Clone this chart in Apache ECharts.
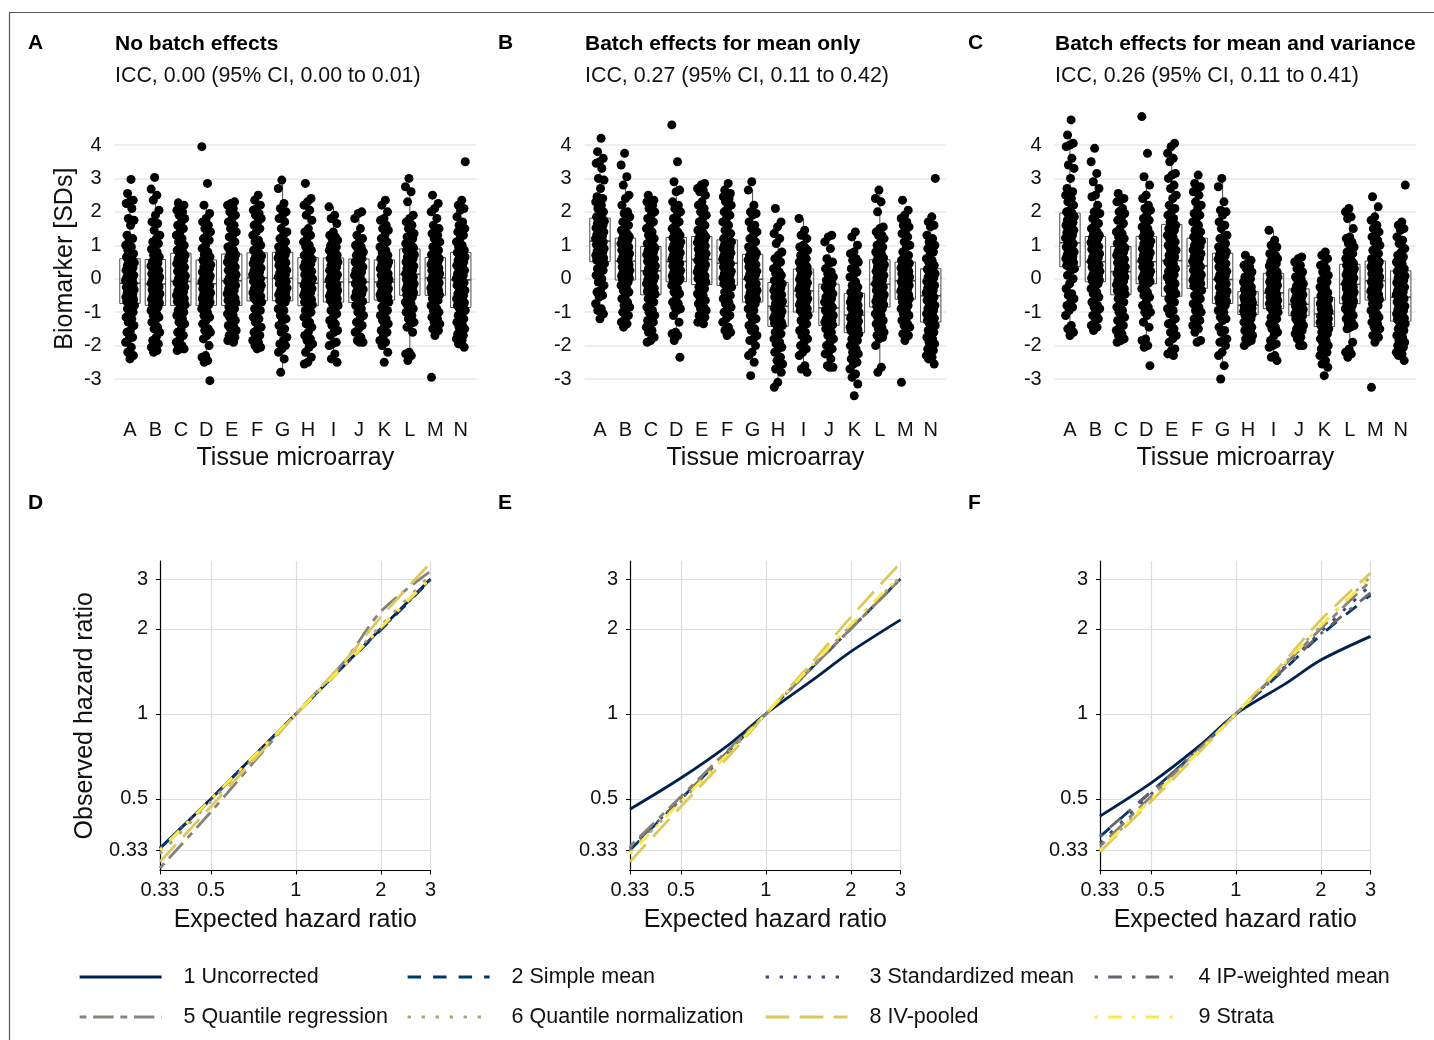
<!DOCTYPE html>
<html>
<head>
<meta charset="utf-8">
<title>Batch effects and hazard ratios</title>
<script src="https://cdn.jsdelivr.net/npm/echarts@6/dist/echarts.min.js"></script>
<style>
  html, body { margin: 0; padding: 0; background: #ffffff; }
  #chart { width: 1434px; height: 1040px; }
</style>
</head>
<body>
<div id="chart"></div>
<script>
// ---------- data ----------
const tmaLabels = ['A','B','C','D','E','F','G','H','I','J','K','L','M','N'];
const biomarkerTicks = [-3, -2, -1, 0, 1, 2, 3, 4];

// Biomarker values (SD units) per tissue microarray, scenario without batch effects
const biomarkerNoBatch = [
  [2.97,2.55,2.35,2.3,2.25,1.8,1.75,1.2,1.15,1.0,0.85,0.7,0.58,0.52,0.45,0.4,0.3,0.25,0.18,0.1,0.05,0.0,-0.05,-0.1,-0.15,-0.22,-0.25,-0.3,-0.38,-0.42,-0.5,-0.55,-0.6,-0.65,-0.68,-0.72,-0.8,-0.9,-1.0,-1.05,-1.3,-1.4,-1.55,-1.75,-1.8,-2.2,-2.3,-2.4,
   2.1,1.6,1.3,0.95,0.75,0.65,0.48,0.33,0.2,0.07,-0.02,-0.12,-0.26,-0.33,-0.47,-0.57,-0.62,-0.7,-0.85,-1.15,-1.2,-1.6,-1.9,-2.05],
  [3.03,2.68,2.35,2.05,1.7,1.65,1.3,1.2,1.05,0.95,0.8,0.65,0.55,0.5,0.42,0.35,0.3,0.2,0.15,0.1,0.02,-0.05,-0.1,-0.18,-0.2,-0.28,-0.33,-0.4,-0.45,-0.5,-0.58,-0.62,-0.68,-0.72,-0.75,-0.78,-0.85,-0.95,-1.05,-1.15,-1.3,-1.45,-1.6,-1.75,-1.95,-2.05,-2.15,-2.2,
   2.5,1.9,1.45,1.1,0.88,0.7,0.47,0.38,0.25,0.12,0.05,-0.02,-0.14,-0.24,-0.36,-0.48,-0.55,-0.65,-0.9,-1.1,-1.25,-1.5,-1.85,-2.0],
  [2.27,2.2,2.1,2.05,2.0,1.8,1.6,1.5,1.4,1.2,1.0,0.85,0.75,0.7,0.6,0.5,0.45,0.38,0.3,0.22,0.15,0.08,0.0,-0.06,-0.12,-0.2,-0.25,-0.32,-0.4,-0.45,-0.52,-0.6,-0.65,-0.7,-0.74,-0.78,-0.85,-1.0,-1.1,-1.2,-1.35,-1.5,-1.7,-1.8,-2.0,-2.05,-2.1,-2.15,
   1.9,1.7,1.3,1.1,0.95,0.8,0.65,0.55,0.42,0.34,0.18,0.04,-0.1,-0.22,-0.36,-0.5,-0.56,-0.68,-0.95,-1.05,-1.3,-1.6,-1.9,-2.1],
  [3.95,2.85,2.2,1.95,1.8,1.6,1.4,1.3,1.15,1.0,0.8,0.65,0.55,0.48,0.4,0.35,0.28,0.2,0.12,0.05,0.0,-0.05,-0.12,-0.18,-0.22,-0.3,-0.35,-0.42,-0.48,-0.55,-0.6,-0.65,-0.7,-0.72,-0.75,-0.78,-0.85,-1.0,-1.1,-1.25,-1.5,-1.6,-1.8,-2.0,-2.3,-2.45,-2.5,-3.05,
   1.7,1.5,1.2,0.9,0.72,0.6,0.5,0.42,0.3,0.16,0.08,-0.02,-0.1,-0.25,-0.38,-0.45,-0.58,-0.68,-0.9,-1.15,-1.35,-1.55,-1.7,-2.35],
  [2.3,2.25,2.2,2.1,1.9,1.7,1.5,1.4,1.25,1.1,0.95,0.8,0.72,0.65,0.58,0.5,0.42,0.35,0.3,0.2,0.12,0.05,0.0,-0.08,-0.12,-0.2,-0.28,-0.35,-0.4,-0.48,-0.55,-0.6,-0.65,-0.7,-0.72,-0.78,-0.85,-0.95,-1.05,-1.15,-1.3,-1.4,-1.5,-1.6,-1.7,-1.8,-1.85,-1.9,
   2.0,1.8,1.6,1.3,1.0,0.85,0.68,0.55,0.45,0.25,0.15,0.02,-0.05,-0.18,-0.3,-0.45,-0.58,-0.68,-0.9,-1.1,-1.25,-1.45,-1.55,-1.75],
  [2.5,2.35,2.1,2.05,1.9,1.8,1.7,1.5,1.3,1.15,1.0,0.85,0.75,0.68,0.6,0.55,0.45,0.4,0.32,0.25,0.2,0.12,0.05,0.0,-0.05,-0.12,-0.18,-0.25,-0.3,-0.35,-0.42,-0.48,-0.52,-0.58,-0.6,-0.65,-0.75,-0.9,-1.0,-1.15,-1.3,-1.45,-1.6,-1.75,-1.85,-2.0,-2.05,-2.1,
   2.2,1.95,1.6,1.4,1.1,0.9,0.7,0.58,0.5,0.35,0.28,0.15,0.08,-0.08,-0.2,-0.32,-0.45,-0.55,-0.7,-0.95,-1.2,-1.5,-1.7,-1.9],
  [2.95,2.7,2.25,2.0,1.9,1.7,1.5,1.3,1.2,1.05,0.95,0.85,0.78,0.7,0.62,0.55,0.48,0.4,0.32,0.25,0.18,0.1,0.05,-0.02,-0.08,-0.12,-0.2,-0.25,-0.3,-0.38,-0.42,-0.48,-0.52,-0.58,-0.6,-0.65,-0.8,-0.95,-1.1,-1.25,-1.4,-1.6,-1.75,-1.85,-2.0,-2.1,-2.4,-2.8,
   2.1,1.8,1.4,1.1,0.9,0.82,0.74,0.66,0.5,0.42,0.28,0.2,0.12,-0.05,-0.15,-0.28,-0.45,-0.55,-0.7,-0.9,-1.2,-1.5,-1.95,-2.2],
  [2.85,2.4,2.3,2.05,1.75,1.4,1.3,1.2,1.1,0.95,0.85,0.7,0.62,0.55,0.48,0.4,0.35,0.25,0.2,0.12,0.05,0.0,-0.08,-0.12,-0.2,-0.25,-0.3,-0.38,-0.42,-0.5,-0.55,-0.6,-0.65,-0.7,-0.74,-0.78,-0.9,-1.0,-1.15,-1.35,-1.45,-1.7,-1.85,-1.95,-2.05,-2.35,-2.5,-2.55,
   2.2,1.9,1.5,1.0,0.8,0.66,0.58,0.45,0.3,0.22,0.08,-0.02,-0.15,-0.28,-0.35,-0.46,-0.62,-0.72,-0.95,-1.1,-1.3,-1.6,-1.8,-2.2],
  [2.15,1.8,1.65,1.3,1.25,1.2,1.1,1.0,0.95,0.85,0.75,0.68,0.6,0.55,0.48,0.4,0.3,0.25,0.18,0.1,0.05,0.0,-0.05,-0.12,-0.18,-0.22,-0.3,-0.35,-0.4,-0.45,-0.5,-0.55,-0.58,-0.62,-0.65,-0.68,-0.8,-0.95,-1.05,-1.25,-1.4,-1.55,-1.6,-1.9,-2.0,-2.25,-2.4,-2.5,
   1.9,1.4,1.15,0.9,0.8,0.7,0.58,0.5,0.35,0.2,0.12,0.02,-0.08,-0.2,-0.32,-0.42,-0.52,-0.6,-0.75,-0.9,-1.15,-1.35,-1.7,-1.95],
  [2.0,1.95,1.8,1.3,1.1,1.0,0.9,0.8,0.7,0.6,0.5,0.42,0.35,0.25,0.15,0.1,0.0,-0.08,-0.15,-0.25,-0.32,-0.4,-0.48,-0.55,-0.62,-0.68,-0.72,-0.8,-1.0,-1.1,-1.3,-1.4,-1.6,-1.85,-1.9,-1.9,
   1.5,1.2,0.95,0.75,0.55,0.45,0.3,0.2,0.05,-0.12,-0.2,-0.35,-0.45,-0.6,-0.9,-1.2,-1.5,-1.75],
  [2.35,2.2,1.8,1.75,1.5,1.45,1.2,1.1,1.0,0.85,0.7,0.6,0.55,0.5,0.42,0.35,0.3,0.22,0.15,0.1,0.05,-0.02,-0.08,-0.12,-0.18,-0.25,-0.3,-0.35,-0.4,-0.45,-0.5,-0.52,-0.55,-0.58,-0.6,-0.62,-0.7,-0.85,-1.0,-1.1,-1.25,-1.4,-1.55,-1.7,-1.85,-2.0,-2.2,-2.5,
   2.0,1.6,1.3,0.95,0.78,0.65,0.52,0.45,0.38,0.25,0.12,0.0,-0.05,-0.15,-0.28,-0.38,-0.48,-0.56,-0.75,-0.95,-1.2,-1.35,-1.6,-1.9],
  [3.0,2.75,2.6,1.9,1.7,1.6,1.35,1.3,1.2,1.1,1.0,0.92,0.88,0.8,0.72,0.65,0.6,0.5,0.45,0.38,0.3,0.25,0.2,0.12,0.05,0.0,-0.05,-0.1,-0.15,-0.2,-0.25,-0.3,-0.35,-0.4,-0.45,-0.48,-0.55,-0.7,-0.8,-0.9,-1.0,-1.2,-1.35,-1.45,-2.2,-2.25,-2.3,-2.45,
   2.3,1.8,1.5,1.25,1.05,0.95,0.85,0.75,0.68,0.55,0.42,0.35,0.15,0.08,-0.02,-0.18,-0.32,-0.42,-0.6,-0.75,-0.95,-1.1,-1.3,-1.6],
  [2.5,2.25,2.0,1.8,1.5,1.4,1.3,1.2,1.1,0.95,0.8,0.68,0.62,0.58,0.5,0.45,0.38,0.32,0.28,0.2,0.15,0.1,0.05,0.0,-0.05,-0.1,-0.12,-0.18,-0.22,-0.28,-0.3,-0.35,-0.4,-0.42,-0.45,-0.48,-0.55,-0.65,-0.8,-0.9,-1.0,-1.1,-1.2,-1.3,-1.45,-1.55,-1.7,-2.95,
   2.1,1.6,1.35,1.05,0.85,0.72,0.6,0.52,0.42,0.35,0.25,0.18,0.08,-0.02,-0.15,-0.25,-0.32,-0.45,-0.6,-0.75,-0.95,-1.15,-1.35,-1.5],
  [3.5,2.35,2.1,2.05,1.85,1.6,1.5,1.4,1.3,1.2,1.0,0.85,0.78,0.7,0.62,0.55,0.48,0.4,0.3,0.22,0.15,0.08,0.0,-0.05,-0.12,-0.2,-0.28,-0.35,-0.42,-0.5,-0.55,-0.62,-0.7,-0.75,-0.8,-0.85,-0.95,-1.05,-1.2,-1.3,-1.4,-1.5,-1.6,-1.7,-1.75,-1.8,-1.95,-2.05,
   2.2,1.7,1.45,1.1,0.95,0.82,0.75,0.65,0.5,0.35,0.25,0.1,-0.02,-0.15,-0.3,-0.45,-0.6,-0.72,-0.9,-1.1,-1.25,-1.45,-1.65,-1.85]
];

// Biomarker values, batch effects on the mean only
const biomarkerMeanOnly = [
  [4.2,3.8,3.6,3.5,3.45,3.0,2.95,2.45,2.4,2.3,2.2,1.9,1.8,1.72,1.65,1.6,1.52,1.45,1.4,1.32,1.25,1.2,1.15,1.1,1.02,0.98,0.9,0.85,0.8,0.75,0.7,0.65,0.62,0.58,0.55,0.53,0.45,0.3,0.2,0.0,-0.2,-0.35,-0.5,-0.55,-0.75,-0.9,-1.05,-1.2,
   3.3,2.7,2.35,2.1,2.0,1.85,1.78,1.68,1.55,1.48,1.35,1.28,1.18,1.05,0.95,0.82,0.68,0.56,0.4,0.25,0.1,-0.1,-0.4,-0.95],
  [3.75,3.4,3.05,2.8,2.5,2.4,2.0,1.95,1.8,1.7,1.5,1.3,1.2,1.15,1.1,1.0,0.95,0.9,0.82,0.75,0.7,0.65,0.58,0.5,0.45,0.4,0.35,0.3,0.25,0.18,0.12,0.1,0.05,0.02,0.0,-0.02,-0.1,-0.2,-0.3,-0.4,-0.5,-0.7,-0.8,-0.9,-1.0,-1.2,-1.35,-1.45,
   2.2,1.85,1.6,1.45,1.35,1.26,1.18,1.05,0.98,0.86,0.78,0.62,0.55,0.42,0.32,0.2,0.08,0.03,-0.15,-0.35,-0.6,-0.85,-1.1,-1.3],
  [2.5,2.35,2.3,2.3,2.1,2.0,1.8,1.7,1.5,1.4,1.2,1.05,0.95,0.9,0.8,0.75,0.68,0.6,0.55,0.5,0.42,0.35,0.3,0.25,0.18,0.1,0.05,0.0,-0.05,-0.12,-0.18,-0.25,-0.3,-0.38,-0.42,-0.46,-0.55,-0.7,-0.85,-1.0,-1.1,-1.2,-1.3,-1.45,-1.55,-1.75,-1.85,-1.9,
   2.2,1.9,1.6,1.3,1.1,1.0,0.92,0.85,0.72,0.64,0.52,0.38,0.22,0.12,-0.02,-0.15,-0.28,-0.4,-0.6,-0.8,-0.95,-1.25,-1.4,-1.6],
  [4.6,3.5,2.9,2.65,2.6,2.3,2.1,2.0,1.8,1.6,1.5,1.3,1.22,1.15,1.1,1.02,0.95,0.9,0.85,0.78,0.7,0.65,0.6,0.55,0.48,0.4,0.35,0.3,0.22,0.18,0.12,0.08,0.02,0.0,-0.04,-0.07,-0.15,-0.3,-0.45,-0.6,-0.75,-0.85,-0.95,-1.3,-1.6,-1.65,-1.85,-2.35,
   2.2,1.9,1.7,1.4,1.35,1.28,1.18,1.05,0.98,0.88,0.75,0.58,0.45,0.38,0.25,0.15,0.05,-0.02,-0.2,-0.4,-0.7,-0.9,-1.1,-1.7],
  [2.85,2.8,2.7,2.6,2.5,2.3,2.1,2.0,1.9,1.7,1.5,1.35,1.25,1.2,1.12,1.05,1.0,0.95,0.88,0.8,0.75,0.7,0.62,0.55,0.5,0.42,0.35,0.3,0.22,0.15,0.1,0.05,0.0,-0.05,-0.1,-0.15,-0.25,-0.35,-0.45,-0.55,-0.65,-0.75,-0.85,-0.95,-1.05,-1.15,-1.25,-1.35,
   2.65,2.2,1.8,1.6,1.45,1.3,1.22,1.15,1.08,0.98,0.85,0.72,0.6,0.45,0.32,0.2,0.08,-0.08,-0.3,-0.5,-0.7,-0.9,-1.1,-1.3],
  [2.85,2.65,2.5,2.45,2.4,2.3,2.1,2.0,1.8,1.6,1.45,1.25,1.15,1.1,1.02,0.95,0.9,0.85,0.78,0.7,0.65,0.58,0.5,0.45,0.4,0.32,0.25,0.2,0.15,0.08,0.02,-0.02,-0.08,-0.12,-0.15,-0.18,-0.25,-0.4,-0.5,-0.6,-0.75,-0.85,-1.0,-1.1,-1.3,-1.45,-1.6,-1.7,
   2.55,2.2,1.9,1.7,1.35,1.2,1.12,1.05,0.92,0.8,0.72,0.6,0.48,0.35,0.22,0.1,-0.05,-0.15,-0.3,-0.55,-0.7,-0.9,-1.2,-1.55],
  [2.9,2.65,2.2,2.0,1.9,1.6,1.5,1.3,1.2,1.1,0.95,0.8,0.72,0.65,0.6,0.52,0.45,0.38,0.3,0.22,0.15,0.1,0.02,-0.05,-0.1,-0.18,-0.22,-0.3,-0.35,-0.4,-0.45,-0.52,-0.58,-0.62,-0.65,-0.68,-0.8,-0.95,-1.1,-1.25,-1.4,-1.55,-1.7,-1.85,-2.0,-2.3,-2.5,-2.9,
   1.95,1.7,1.4,1.0,0.85,0.76,0.68,0.56,0.42,0.35,0.25,0.18,0.05,-0.15,-0.25,-0.42,-0.55,-0.62,-0.75,-0.9,-1.2,-1.5,-1.8,-2.2],
  [2.1,1.7,1.55,1.35,1.05,0.7,0.6,0.5,0.3,0.15,0.05,-0.05,-0.12,-0.2,-0.28,-0.35,-0.4,-0.48,-0.55,-0.6,-0.68,-0.72,-0.8,-0.85,-0.9,-0.98,-1.05,-1.1,-1.15,-1.2,-1.25,-1.3,-1.33,-1.36,-1.38,-1.4,-1.5,-1.65,-1.8,-1.95,-2.05,-2.1,-2.45,-2.55,-2.6,-2.8,-3.1,-3.25,
   1.2,0.8,0.4,0.2,0.1,-0.08,-0.15,-0.25,-0.32,-0.45,-0.52,-0.65,-0.75,-0.88,-0.95,-1.08,-1.18,-1.3,-1.6,-1.75,-1.9,-2.2,-2.35,-2.7],
  [1.8,1.45,1.3,1.0,0.95,0.9,0.85,0.7,0.6,0.5,0.4,0.32,0.28,0.2,0.15,0.1,0.05,-0.02,-0.08,-0.15,-0.2,-0.25,-0.32,-0.38,-0.42,-0.5,-0.55,-0.6,-0.65,-0.7,-0.75,-0.8,-0.85,-0.9,-0.95,-0.98,-1.1,-1.25,-1.4,-1.55,-1.7,-1.9,-2.0,-2.2,-2.3,-2.6,-2.7,-2.8,
   1.2,0.92,0.75,0.55,0.45,0.35,0.25,0.18,0.08,-0.05,-0.12,-0.28,-0.35,-0.45,-0.58,-0.68,-0.78,-0.92,-1.05,-1.2,-1.35,-1.6,-1.8,-2.1],
  [1.3,1.25,1.1,0.6,0.45,0.3,0.2,0.05,-0.05,-0.15,-0.25,-0.35,-0.45,-0.55,-0.62,-0.7,-0.8,-0.9,-0.98,-1.05,-1.12,-1.2,-1.25,-1.3,-1.35,-1.38,-1.4,-1.5,-1.7,-1.8,-2.0,-2.1,-2.25,-2.6,-2.65,-2.65,
   0.9,0.5,0.15,0.0,-0.2,-0.3,-0.5,-0.6,-0.75,-0.85,-0.95,-1.1,-1.28,-1.36,-1.6,-1.9,-2.2,-2.4],
  [1.4,1.25,0.8,0.75,0.55,0.5,0.35,0.2,0.05,-0.1,-0.25,-0.38,-0.45,-0.5,-0.58,-0.62,-0.7,-0.75,-0.8,-0.88,-0.92,-1.0,-1.05,-1.1,-1.15,-1.2,-1.25,-1.3,-1.35,-1.4,-1.45,-1.5,-1.52,-1.55,-1.58,-1.6,-1.7,-1.8,-1.95,-2.1,-2.2,-2.3,-2.4,-2.55,-2.7,-2.85,-3.15,-3.5,
   1.0,0.6,0.3,0.1,-0.2,-0.4,-0.48,-0.55,-0.65,-0.72,-0.85,-0.95,-1.08,-1.18,-1.28,-1.38,-1.48,-1.56,-1.65,-1.85,-2.0,-2.25,-2.5,-2.95],
  [2.65,2.4,2.3,1.55,1.4,1.3,1.2,1.0,0.95,0.85,0.75,0.65,0.55,0.5,0.42,0.35,0.3,0.22,0.15,0.1,0.02,-0.05,-0.1,-0.18,-0.22,-0.3,-0.35,-0.42,-0.48,-0.55,-0.6,-0.65,-0.7,-0.75,-0.8,-0.83,-0.95,-1.05,-1.15,-1.25,-1.35,-1.5,-1.6,-1.7,-1.75,-1.8,-2.65,-2.8,
   2.0,1.5,1.3,1.1,0.8,0.62,0.52,0.45,0.38,0.25,0.18,0.05,-0.15,-0.25,-0.4,-0.52,-0.68,-0.78,-0.9,-1.1,-1.3,-1.45,-1.65,-2.0],
  [2.35,2.05,1.9,1.7,1.55,1.4,1.25,1.1,0.95,0.8,0.65,0.55,0.48,0.45,0.4,0.35,0.3,0.25,0.2,0.15,0.1,0.05,0.0,-0.05,-0.1,-0.15,-0.2,-0.25,-0.3,-0.35,-0.4,-0.45,-0.5,-0.55,-0.58,-0.6,-0.7,-0.8,-0.9,-1.0,-1.1,-1.25,-1.35,-1.45,-1.65,-1.7,-1.85,-3.1,
   1.8,1.6,1.35,1.0,0.7,0.55,0.46,0.42,0.32,0.22,0.12,0.02,-0.08,-0.18,-0.28,-0.38,-0.48,-0.56,-0.65,-0.85,-1.05,-1.2,-1.4,-1.6],
  [3.0,1.85,1.6,1.55,1.3,1.1,1.0,0.9,0.7,0.6,0.5,0.35,0.28,0.2,0.12,0.05,0.0,-0.08,-0.15,-0.2,-0.28,-0.35,-0.42,-0.5,-0.55,-0.62,-0.7,-0.78,-0.85,-0.9,-0.98,-1.05,-1.12,-1.18,-1.25,-1.28,-1.4,-1.5,-1.6,-1.7,-1.8,-1.9,-2.0,-2.1,-2.2,-2.3,-2.4,-2.55,
   1.7,1.2,0.95,0.8,0.55,0.4,0.25,0.15,0.02,-0.1,-0.25,-0.38,-0.52,-0.65,-0.8,-0.95,-1.1,-1.22,-1.35,-1.55,-1.75,-1.95,-2.15,-2.35]
];

// Biomarker values, batch effects on mean and variance
const biomarkerMeanVariance = [
  [4.75,4.3,4.05,4.0,3.95,3.4,3.3,2.7,2.6,2.5,2.3,2.05,1.95,1.85,1.75,1.68,1.6,1.5,1.45,1.38,1.3,1.22,1.15,1.1,1.0,0.95,0.85,0.8,0.72,0.65,0.6,0.52,0.48,0.42,0.4,0.38,0.25,0.0,-0.3,-0.45,-0.6,-0.7,-0.85,-0.95,-1.4,-1.5,-1.6,-1.7,
   3.6,3.0,2.55,2.4,2.2,2.0,1.9,1.8,1.65,1.55,1.42,1.25,1.05,0.9,0.75,0.62,0.5,0.4,0.3,0.1,-0.15,-0.5,-0.8,-1.1],
  [3.9,3.5,3.15,2.9,2.5,2.45,2.0,1.95,1.8,1.65,1.5,1.35,1.25,1.2,1.12,1.05,1.0,0.92,0.85,0.8,0.72,0.65,0.6,0.52,0.45,0.4,0.35,0.28,0.22,0.15,0.1,0.05,0.0,-0.02,-0.05,-0.07,-0.15,-0.3,-0.4,-0.55,-0.7,-0.8,-0.9,-1.05,-1.2,-1.3,-1.45,-1.55,
   2.7,2.2,1.9,1.6,1.4,1.3,1.22,1.08,0.96,0.88,0.75,0.62,0.5,0.38,0.25,0.12,0.02,-0.04,-0.2,-0.45,-0.6,-0.85,-1.1,-1.4],
  [2.55,2.4,2.35,2.3,2.1,1.95,1.8,1.65,1.5,1.35,1.2,1.05,0.95,0.9,0.82,0.75,0.68,0.62,0.55,0.48,0.42,0.35,0.3,0.22,0.15,0.1,0.05,-0.02,-0.08,-0.12,-0.18,-0.25,-0.3,-0.36,-0.42,-0.46,-0.55,-0.7,-0.85,-1.0,-1.15,-1.25,-1.4,-1.55,-1.65,-1.8,-1.85,-1.9,
   2.0,1.75,1.4,1.25,1.1,1.0,0.92,0.8,0.7,0.58,0.45,0.32,0.2,0.08,-0.05,-0.2,-0.32,-0.4,-0.6,-0.78,-0.95,-1.2,-1.45,-1.7],
  [4.85,3.75,3.05,2.8,2.5,2.2,2.05,1.95,1.8,1.65,1.5,1.35,1.25,1.18,1.1,1.05,0.98,0.9,0.82,0.78,0.7,0.62,0.55,0.5,0.42,0.35,0.3,0.22,0.18,0.1,0.05,0.0,-0.05,-0.08,-0.1,-0.12,-0.25,-0.4,-0.55,-0.7,-0.85,-1.0,-1.1,-1.45,-1.85,-2.0,-2.05,-2.6,
   2.4,2.1,1.75,1.55,1.4,1.32,1.2,1.12,1.0,0.88,0.75,0.65,0.52,0.38,0.25,0.12,0.02,-0.1,-0.3,-0.5,-0.8,-1.0,-1.3,-1.8],
  [4.05,3.95,3.75,3.5,3.15,3.1,2.8,2.7,2.4,2.2,2.0,1.8,1.6,1.5,1.4,1.3,1.2,1.1,1.0,0.92,0.85,0.75,0.65,0.58,0.5,0.4,0.3,0.22,0.12,0.05,-0.05,-0.15,-0.25,-0.32,-0.42,-0.5,-0.6,-0.75,-0.9,-1.05,-1.2,-1.35,-1.5,-1.7,-1.9,-2.1,-2.25,-2.3,
   3.6,3.0,2.5,2.1,1.9,1.7,1.55,1.45,1.25,1.05,0.88,0.7,0.45,0.25,0.08,-0.1,-0.3,-0.45,-0.7,-0.95,-1.3,-1.6,-1.8,-2.15],
  [3.1,2.85,2.75,2.7,2.5,2.3,2.1,1.95,1.8,1.6,1.45,1.3,1.2,1.12,1.05,0.98,0.9,0.82,0.75,0.7,0.62,0.55,0.48,0.4,0.32,0.25,0.2,0.12,0.05,0.0,-0.05,-0.1,-0.15,-0.2,-0.24,-0.27,-0.35,-0.5,-0.6,-0.75,-0.85,-1.0,-1.1,-1.25,-1.4,-1.5,-1.85,-1.9,
   2.6,2.2,1.9,1.7,1.4,1.25,1.15,1.0,0.86,0.78,0.65,0.52,0.36,0.22,0.08,-0.02,-0.12,-0.22,-0.4,-0.65,-0.95,-1.2,-1.35,-1.6],
  [3.0,2.75,2.3,2.05,2.0,1.7,1.6,1.3,1.2,1.05,0.95,0.82,0.75,0.68,0.6,0.52,0.45,0.38,0.3,0.22,0.15,0.08,0.0,-0.05,-0.12,-0.18,-0.25,-0.3,-0.38,-0.42,-0.5,-0.55,-0.6,-0.65,-0.7,-0.72,-0.85,-1.0,-1.15,-1.25,-1.45,-1.6,-1.8,-1.9,-2.0,-2.3,-2.6,-3.0,
   1.9,1.5,1.25,1.0,0.88,0.8,0.72,0.58,0.48,0.35,0.25,0.12,0.02,-0.15,-0.28,-0.45,-0.58,-0.68,-0.8,-0.95,-1.2,-1.55,-1.85,-2.2],
  [0.7,0.55,0.45,0.4,0.3,0.15,0.0,-0.05,-0.15,-0.25,-0.3,-0.35,-0.4,-0.45,-0.48,-0.52,-0.55,-0.6,-0.62,-0.65,-0.68,-0.72,-0.75,-0.78,-0.8,-0.85,-0.88,-0.9,-0.92,-0.95,-0.98,-1.0,-1.02,-1.04,-1.05,-1.06,-1.12,-1.2,-1.3,-1.35,-1.45,-1.55,-1.6,-1.7,-1.75,-1.85,-1.9,-2.0,
   0.35,0.2,0.05,-0.1,-0.2,-0.32,-0.42,-0.5,-0.58,-0.64,-0.7,-0.76,-0.82,-0.87,-0.93,-0.97,-1.01,-1.05,-1.1,-1.25,-1.4,-1.5,-1.65,-1.8],
  [1.45,1.15,1.0,0.95,0.75,0.65,0.6,0.5,0.45,0.38,0.3,0.2,0.15,0.1,0.05,0.0,-0.05,-0.1,-0.15,-0.2,-0.25,-0.3,-0.35,-0.4,-0.45,-0.5,-0.55,-0.6,-0.65,-0.7,-0.72,-0.75,-0.8,-0.84,-0.86,-0.88,-0.95,-1.05,-1.2,-1.35,-1.5,-1.6,-1.85,-1.95,-2.0,-2.3,-2.35,-2.45,
   0.85,0.7,0.55,0.4,0.25,0.2,0.12,0.02,-0.08,-0.18,-0.28,-0.38,-0.48,-0.58,-0.68,-0.74,-0.82,-0.87,-1.0,-1.15,-1.3,-1.45,-1.7,-2.05],
  [0.65,0.6,0.5,0.2,0.1,0.0,-0.05,-0.15,-0.22,-0.3,-0.35,-0.42,-0.48,-0.55,-0.6,-0.65,-0.7,-0.75,-0.82,-0.88,-0.92,-0.98,-1.02,-1.05,-1.08,-1.1,-1.11,-1.2,-1.3,-1.45,-1.5,-1.6,-1.65,-1.8,-2.0,-2.0,
   0.4,0.3,0.05,-0.2,-0.32,-0.4,-0.5,-0.58,-0.68,-0.78,-0.85,-0.95,-1.0,-1.08,-1.25,-1.4,-1.55,-1.75],
  [0.8,0.7,0.45,0.4,0.3,0.1,0.0,-0.1,-0.2,-0.3,-0.42,-0.5,-0.58,-0.62,-0.68,-0.72,-0.75,-0.8,-0.85,-0.88,-0.92,-0.95,-1.0,-1.05,-1.08,-1.12,-1.15,-1.2,-1.25,-1.28,-1.3,-1.34,-1.36,-1.38,-1.4,-1.41,-1.5,-1.6,-1.7,-1.8,-1.9,-2.0,-2.1,-2.2,-2.3,-2.45,-2.65,-2.9,
   0.6,0.2,-0.05,-0.25,-0.4,-0.52,-0.6,-0.66,-0.74,-0.82,-0.9,-0.98,-1.06,-1.14,-1.22,-1.3,-1.36,-1.4,-1.55,-1.65,-1.85,-2.05,-2.25,-2.55],
  [2.1,2.0,1.85,1.8,1.25,1.1,1.05,0.9,0.8,0.7,0.6,0.5,0.42,0.38,0.32,0.28,0.22,0.15,0.1,0.05,0.0,-0.05,-0.1,-0.15,-0.2,-0.25,-0.3,-0.35,-0.4,-0.45,-0.5,-0.55,-0.6,-0.65,-0.7,-0.73,-0.8,-0.9,-1.0,-1.1,-1.2,-1.35,-1.45,-1.5,-2.1,-2.2,-2.25,-2.35,
   1.5,1.2,0.95,0.75,0.55,0.46,0.4,0.3,0.2,0.12,0.02,-0.08,-0.18,-0.28,-0.38,-0.48,-0.58,-0.68,-0.85,-0.95,-1.15,-1.3,-1.4,-1.9],
  [2.45,2.15,1.85,1.6,1.5,1.4,1.25,1.15,1.0,0.9,0.75,0.6,0.52,0.48,0.42,0.38,0.32,0.28,0.22,0.15,0.1,0.05,0.0,-0.05,-0.1,-0.15,-0.2,-0.25,-0.3,-0.35,-0.4,-0.45,-0.5,-0.55,-0.58,-0.62,-0.7,-0.8,-0.95,-1.05,-1.15,-1.25,-1.35,-1.45,-1.5,-1.75,-1.9,-3.25,
   1.75,1.3,1.1,0.85,0.68,0.56,0.5,0.45,0.35,0.25,0.12,0.02,-0.08,-0.18,-0.28,-0.38,-0.48,-0.6,-0.75,-0.9,-1.1,-1.3,-1.6,-1.7],
  [2.8,1.7,1.5,1.45,1.25,1.05,0.9,0.7,0.6,0.5,0.4,0.3,0.22,0.15,0.08,0.02,-0.05,-0.12,-0.2,-0.25,-0.32,-0.4,-0.45,-0.52,-0.6,-0.65,-0.72,-0.8,-0.85,-0.92,-1.0,-1.05,-1.12,-1.18,-1.22,-1.26,-1.35,-1.45,-1.55,-1.65,-1.75,-1.85,-1.95,-2.0,-2.1,-2.2,-2.3,-2.45,
   1.6,1.15,0.8,0.65,0.45,0.28,0.18,0.05,-0.08,-0.22,-0.35,-0.48,-0.58,-0.7,-0.82,-0.95,-1.08,-1.2,-1.3,-1.5,-1.7,-1.9,-2.05,-2.25]
];

// Hazard ratio curves: expected HR grid and observed HR per correction method
const expectedHR = [0.33, 0.5, 0.75, 1, 1.5, 2, 3];
const hrTicks = [0.33, 0.5, 1, 2, 3];
const hrTickLabels = ['0.33', '0.5', '1', '2', '3'];
const methodNames = ['1 Uncorrected', '2 Simple mean', '3 Standardized mean', '4 IP-weighted mean',
                     '5 Quantile regression', '6 Quantile normalization', '8 IV-pooled', '9 Strata'];

const observedNoBatch = [
  [0.335, 0.5, 0.75, 1, 1.5, 2.0, 3.0],
  [0.335, 0.5, 0.75, 1, 1.5, 1.98, 2.98],
  [0.335, 0.5, 0.75, 1, 1.5, 1.99, 2.98],
  [0.33, 0.5, 0.75, 1, 1.5, 2.0, 3.0],
  [0.285, 0.45, 0.72, 1, 1.55, 2.3, 3.2],
  [0.32, 0.49, 0.74, 1, 1.52, 2.05, 3.1],
  [0.30, 0.47, 0.73, 1, 1.55, 2.2, 3.42],
  [0.33, 0.5, 0.75, 1, 1.5, 2.02, 3.02]
];
const observedMeanOnly = [
  [0.46, 0.593, 0.787, 1.0, 1.34, 1.66, 2.15],
  [0.33, 0.5, 0.75, 1, 1.5, 2.0, 3.0],
  [0.335, 0.5, 0.75, 1, 1.5, 2.0, 3.0],
  [0.335, 0.5, 0.75, 1, 1.5, 2.0, 3.0],
  [0.34, 0.51, 0.76, 1, 1.5, 2.0, 3.0],
  [0.325, 0.49, 0.74, 1, 1.52, 2.05, 3.05],
  [0.30, 0.47, 0.72, 1, 1.57, 2.2, 3.42],
  [0.32, 0.49, 0.74, 1, 1.53, 2.07, 3.08]
];
const observedMeanVariance = [
  [0.435, 0.569, 0.777, 1.0, 1.28, 1.55, 1.88],
  [0.368, 0.53, 0.76, 1, 1.45, 1.9, 2.63],
  [0.35, 0.52, 0.76, 1, 1.48, 1.95, 2.85],
  [0.37, 0.53, 0.76, 1, 1.46, 1.92, 2.68],
  [0.34, 0.51, 0.76, 1, 1.5, 2.0, 2.95],
  [0.33, 0.5, 0.75, 1, 1.52, 2.05, 3.05],
  [0.325, 0.49, 0.74, 1, 1.55, 2.15, 3.15],
  [0.33, 0.5, 0.75, 1, 1.52, 2.05, 3.05]
];

const panelLetters = ['A', 'B', 'C', 'D', 'E', 'F'];
const panelTitles = ['No batch effects', 'Batch effects for mean only', 'Batch effects for mean and variance'];
const iccTexts = ['ICC, 0.00 (95% CI, 0.00 to 0.01)', 'ICC, 0.27 (95% CI, 0.11 to 0.42)', 'ICC, 0.26 (95% CI, 0.11 to 0.41)'];

// ---------- styling ----------
const FONT = '"Liberation Sans", Arial, Helvetica, sans-serif';
const TEXT = '#111111';
const methodColors = ['#00204D', '#00376E', '#414D6B', '#62646F', '#86847A', '#ADA374', '#DCC85E', '#FDE945'];
const DASH = {
  solid: 'solid',
  dashed: [13.5, 12],
  dotted: [3.4, 10.6],
  dotdash: [3.4, 10.2, 13.6, 10.2],
  twodash: [6.8, 6.8, 20.4, 6.8],
  longdash: [23.8, 10.2]
};
const methodDash = ['solid', 'dashed', 'dotted', 'dotdash', 'twodash', 'dotted', 'longdash', 'dotdash'];

const PANEL_DX = 470;
const TOP_GRID = { left: 114.7, top: 114.9, width: 361.3, height: 287.5 };
const BOT_GRID = { left: 160, top: 561, width: 270.5, height: 309.5 };
const BOX_WIDTH = 0.8;

// ---------- helpers ----------
function quantile(sorted, p) {
  const h = (sorted.length - 1) * p;
  const lo = Math.floor(h);
  const hi = Math.min(lo + 1, sorted.length - 1);
  return sorted[lo] + (h - lo) * (sorted[hi] - sorted[lo]);
}
function boxStats(values, idx) {
  const s = values.slice().sort((a, b) => a - b);
  const q1 = quantile(s, 0.25), med = quantile(s, 0.5), q3 = quantile(s, 0.75);
  const iqr = q3 - q1;
  const lo = s.find(v => v >= q1 - 1.5 * iqr);
  const hi = s.slice().reverse().find(v => v <= q3 + 1.5 * iqr);
  return [idx, lo, q1, med, q3, hi];
}
// horizontal spread of points inside each category band
function jitter(k) {
  return (((k * 0.6180339887) % 1) - 0.5) * 0.36;
}
function renderBox(params, api) {
  const x = api.value(0);
  const pLo = api.coord([x, api.value(1)]);
  const pQ1 = api.coord([x, api.value(2)]);
  const pMed = api.coord([x, api.value(3)]);
  const pQ3 = api.coord([x, api.value(4)]);
  const pHi = api.coord([x, api.value(5)]);
  const half = api.size([BOX_WIDTH, 0])[0] / 2;
  const style = { stroke: '#4a4a4a', lineWidth: 1, fill: 'none' };
  return {
    type: 'group',
    children: [
      { type: 'line', shape: { x1: pHi[0], y1: pHi[1], x2: pQ3[0], y2: pQ3[1] }, style },
      { type: 'line', shape: { x1: pQ1[0], y1: pQ1[1], x2: pLo[0], y2: pLo[1] }, style },
      { type: 'rect', shape: { x: pQ3[0] - half, y: pQ3[1], width: 2 * half, height: pQ1[1] - pQ3[1] }, style },
      { type: 'line', shape: { x1: pMed[0] - half, y1: pMed[1], x2: pMed[0] + half, y2: pMed[1] }, style: { stroke: '#4a4a4a', lineWidth: 1.6 } }
    ]
  };
}
function hrLabel(v) {
  for (let i = 0; i < hrTicks.length; i++) {
    if (Math.abs(Math.log(hrTicks[i]) - v) < 1e-6) return hrTickLabels[i];
  }
  return '';
}

// ---------- build option ----------
const grids = [], xAxes = [], yAxes = [], series = [], titles = [];
const biomarkerSets = [biomarkerNoBatch, biomarkerMeanOnly, biomarkerMeanVariance];
const observedSets = [observedNoBatch, observedMeanOnly, observedMeanVariance];
const lnTicks = hrTicks.map(Math.log);

for (let p = 0; p < 3; p++) {
  grids.push({ left: TOP_GRID.left + p * PANEL_DX, top: TOP_GRID.top, width: TOP_GRID.width, height: TOP_GRID.height });
  xAxes.push({
    gridIndex: p, type: 'value', min: -0.6, max: 13.6,
    axisLine: { show: false }, axisTick: { show: false }, splitLine: { show: false },
    axisLabel: {
      customValues: tmaLabels.map((_, i) => i),
      formatter: v => tmaLabels[Math.round(v)] || '',
      margin: 18, fontSize: 20, color: TEXT, fontFamily: FONT
    },
    name: 'Tissue microarray', nameLocation: 'middle', nameGap: 43,
    nameTextStyle: { fontSize: 25, color: TEXT, fontFamily: FONT }
  });
  yAxes.push({
    gridIndex: p, type: 'value', min: -3.7, max: 4.9,
    axisLine: { show: false },
    axisTick: { show: false, customValues: biomarkerTicks },
    axisLabel: { customValues: biomarkerTicks, margin: 13, fontSize: 20, color: TEXT, fontFamily: FONT },
    splitLine: { show: true, lineStyle: { color: '#e8e8e8', width: 1.5 } },
    name: p === 0 ? 'Biomarker [SDs]' : '', nameLocation: 'middle', nameGap: 37,
    nameTextStyle: { fontSize: 25, color: TEXT, fontFamily: FONT }
  });

  const sets = biomarkerSets[p];
  series.push({
    type: 'custom', xAxisIndex: p, yAxisIndex: p, z: 2, silent: true,
    renderItem: renderBox,
    encode: { x: 0, y: [1, 2, 3, 4, 5] },
    data: sets.map((vals, i) => boxStats(vals, i))
  });
  const pts = [];
  sets.forEach((vals, i) => {
    const sorted = vals.slice().sort((a, b) => b - a);
    sorted.forEach((v, j) => pts.push([i + jitter(j + i * 11 + 1), v]));
  });
  series.push({
    type: 'scatter', xAxisIndex: p, yAxisIndex: p, z: 3, silent: true,
    symbol: 'circle', symbolSize: 9,
    itemStyle: { color: '#000000', opacity: 1 },
    data: pts
  });

  titles.push({ text: panelLetters[p], left: 28 + p * PANEL_DX, top: 33, padding: 0,
    textStyle: { fontSize: 21, fontWeight: 'bold', color: '#000', fontFamily: FONT } });
  titles.push({ text: panelTitles[p], left: 115 + p * PANEL_DX, top: 34, padding: 0,
    textStyle: { fontSize: 21, fontWeight: 'bold', color: '#000', fontFamily: FONT } });
  titles.push({ text: iccTexts[p], left: 115 + p * PANEL_DX, top: 66, padding: 0,
    textStyle: { fontSize: 21.4, fontWeight: 'normal', color: TEXT, fontFamily: FONT } });
}

for (let p = 0; p < 3; p++) {
  const g = 3 + p;
  grids.push({ left: BOT_GRID.left + p * PANEL_DX, top: BOT_GRID.top, width: BOT_GRID.width, height: BOT_GRID.height });
  xAxes.push({
    gridIndex: g, type: 'value', min: Math.log(0.33), max: Math.log(3),
    axisLine: { show: true, onZero: false, lineStyle: { color: '#000', width: 1.2 } },
    axisTick: { show: true, length: 4, customValues: lnTicks, lineStyle: { color: '#000', width: 1 } },
    axisLabel: { customValues: lnTicks, formatter: hrLabel, margin: 10, fontSize: 20, color: TEXT, fontFamily: FONT },
    splitLine: { show: true, lineStyle: { color: '#dedede', width: 1.2 } },
    name: 'Expected hazard ratio', nameLocation: 'middle', nameGap: 37,
    nameTextStyle: { fontSize: 25, color: TEXT, fontFamily: FONT }
  });
  yAxes.push({
    gridIndex: g, type: 'value', min: -1.2757, max: 1.2452,
    axisLine: { show: true, onZero: false, lineStyle: { color: '#000', width: 1.2 } },
    axisTick: { show: true, length: 4, customValues: lnTicks, lineStyle: { color: '#000', width: 1 } },
    axisLabel: { customValues: lnTicks, formatter: hrLabel, margin: 12, fontSize: 20, color: TEXT, fontFamily: FONT },
    splitLine: { show: true, lineStyle: { color: '#dedede', width: 1.2 } },
    name: p === 0 ? 'Observed hazard ratio' : '', nameLocation: 'middle', nameGap: 62,
    nameTextStyle: { fontSize: 25, color: TEXT, fontFamily: FONT }
  });
  observedSets[p].forEach((obs, m) => {
    series.push({
      type: 'line', name: methodNames[m], xAxisIndex: g, yAxisIndex: g,
      symbol: 'none', smooth: 0.3, silent: true, z: 3 + m,
      lineStyle: { color: methodColors[m], width: 2.8, type: DASH[methodDash[m]], cap: 'butt' },
      itemStyle: { color: methodColors[m] },
      data: expectedHR.map((x, i) => [Math.log(x), Math.log(obs[i])])
    });
  });
  titles.push({ text: panelLetters[3 + p], left: 28 + p * PANEL_DX, top: 493, padding: 0,
    textStyle: { fontSize: 21, fontWeight: 'bold', color: '#000', fontFamily: FONT } });
}

// legend laid out in four columns, two rows; line keys only
const legendCols = [78, 406, 764, 1093];
const legendRows = [966, 1006];
const legends = methodNames.map((name, m) => ({
  data: [name],
  left: legendCols[m % 4], top: legendRows[Math.floor(m / 4)],
  padding: 0, itemGap: 0, itemWidth: 82, itemHeight: 16,
  selectedMode: false,
  itemStyle: { opacity: 0 },
  lineStyle: {
    width: 3.2, color: methodColors[m], type: DASH[methodDash[m]], cap: 'butt', opacity: 1
  },
  textStyle: { fontSize: 21.5, color: TEXT, fontFamily: FONT, padding: [0, 0, 0, 17] }
}));

const option = {
  backgroundColor: '#ffffff',
  animation: false,
  textStyle: { fontFamily: FONT },
  title: titles,
  grid: grids,
  xAxis: xAxes,
  yAxis: yAxes,
  legend: legends,
  series: series,
  graphic: [
    { type: 'line', shape: { x1: 9, y1: 12.5, x2: 1434, y2: 12.5 }, style: { stroke: '#555', lineWidth: 1.2 }, silent: true },
    { type: 'line', shape: { x1: 9.5, y1: 12, x2: 9.5, y2: 1040 }, style: { stroke: '#555', lineWidth: 1.2 }, silent: true }
  ]
};

const chart = echarts.init(document.getElementById('chart'), null, { renderer: 'canvas' });
chart.setOption(option);
</script>
</body>
</html>
